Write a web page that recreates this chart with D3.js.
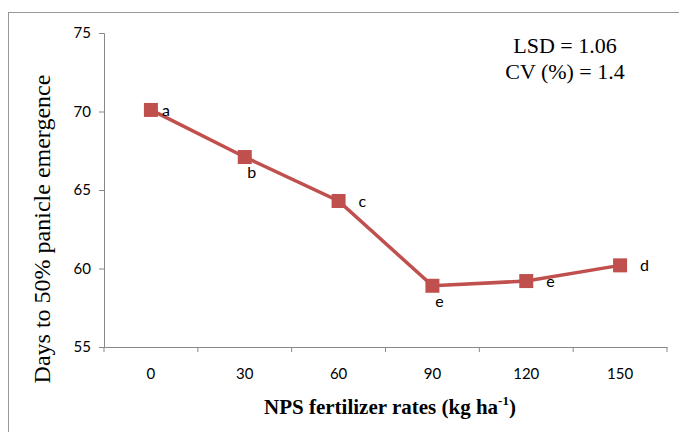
<!DOCTYPE html>
<html><head><meta charset="utf-8">
<script src="https://cdn.jsdelivr.net/npm/d3@7"></script>
<style>body{margin:0;background:#fff}svg{display:block}</style>
</head><body>
<svg id="c" width="679" height="432"></svg>
<script>
const categories = ["0", "30", "60", "90", "120", "150"];
const values = [70.1, 67.1, 64.3, 58.9, 59.2, 60.2];
const letters = ["a", "b", "c", "e", "e", "d"];
const letterPlacement = ["near", "below", "right", "below", "right", "right"];
const yTicks = [55, 60, 65, 70, 75];
const stats = ["LSD = 1.06", "CV (%) = 1.4"];

const svg = d3.select("#c");
const m = {left: 104};
const x = d3.scaleBand().domain(categories).range([m.left, 667]);
const y = d3.scaleLinear().domain([55, 75]).range([347, 33]);
const axisColor = "#888";
const red = "#C0504D";
const sans = "Lato, 'Open Sans', sans-serif";
const serif = "'Liberation Serif', 'Times New Roman', serif";

svg.append("rect").attr("x", 8.5).attr("y", 12.5).attr("width", 680).attr("height", 440)
  .attr("fill", "none").attr("stroke", "#999").attr("stroke-width", 1);

const ya = svg.append("g").attr("transform", `translate(${m.left},0)`)
  .call(d3.axisLeft(y).tickValues(yTicks).tickSize(5).tickPadding(8));
ya.select(".domain").attr("stroke", axisColor);
ya.selectAll(".tick line").attr("stroke", axisColor);
ya.selectAll(".tick text").attr("font-family", sans).attr("font-size", 15).attr("fill", "#000");

const xa = svg.append("g").attr("transform", `translate(0,${y(55)})`)
  .call(d3.axisBottom(x).tickSize(0).tickPadding(21));
xa.select(".domain").attr("stroke", axisColor);
xa.selectAll(".tick line").remove();
xa.selectAll(".tick text").attr("font-family", sans).attr("font-size", 15).attr("fill", "#000");
const bounds = categories.map(c => x(c)).concat([x(categories[categories.length-1]) + x.bandwidth()]);
svg.append("g").selectAll("line").data(bounds).join("line")
  .attr("x1", d => d).attr("x2", d => d).attr("y1", y(55)).attr("y2", y(55) + 5)
  .attr("stroke", axisColor);

const cx = c => x(c) + x.bandwidth() / 2;
const pts = categories.map((c, i) => ({c, v: values[i], l: letters[i], p: letterPlacement[i]}));

svg.append("path").datum(pts)
  .attr("d", d3.line().x(d => cx(d.c)).y(d => y(d.v)))
  .attr("fill", "none").attr("stroke", red).attr("stroke-width", 3.5);

const ms = 14;
svg.append("g").selectAll("rect").data(pts).join("rect")
  .attr("x", d => cx(d.c) - ms / 2).attr("y", d => y(d.v) - ms / 2)
  .attr("width", ms).attr("height", ms).attr("fill", red);

const dxMap = {near: 11, right: 20, below: 7};
svg.append("g").selectAll("text").data(pts).join("text")
  .attr("x", d => cx(d.c) + dxMap[d.p])
  .attr("y", d => y(d.v) + (d.p === "below" ? 21 : 6))
  .attr("text-anchor", d => d.p === "below" ? "middle" : "start")
  .attr("font-family", sans).attr("font-size", 16).attr("fill", "#000")
  .text(d => d.l);

svg.append("g").selectAll("text").data(stats).join("text")
  .attr("x", 565).attr("y", (d, i) => 53 + i * 26)
  .attr("text-anchor", "middle")
  .attr("font-family", serif).attr("font-size", 22).attr("fill", "#000")
  .text(d => d);

svg.append("text")
  .attr("transform", "translate(50,229) rotate(-90)")
  .attr("text-anchor", "middle")
  .attr("font-family", serif).attr("font-size", 24).attr("fill", "#000")
  .text("Days to 50% panicle emergence");

const xt = svg.append("text").attr("x", 390).attr("y", 414).attr("text-anchor", "middle")
  .attr("font-family", serif).attr("font-size", 21)
  .attr("font-weight", "bold").attr("fill", "#000");
xt.append("tspan").text("NPS fertilizer rates (kg ha");
xt.append("tspan").attr("font-size", 13).attr("dy", -9).text("-1");
xt.append("tspan").attr("dy", 9).text(")");
</script>
</body></html>
